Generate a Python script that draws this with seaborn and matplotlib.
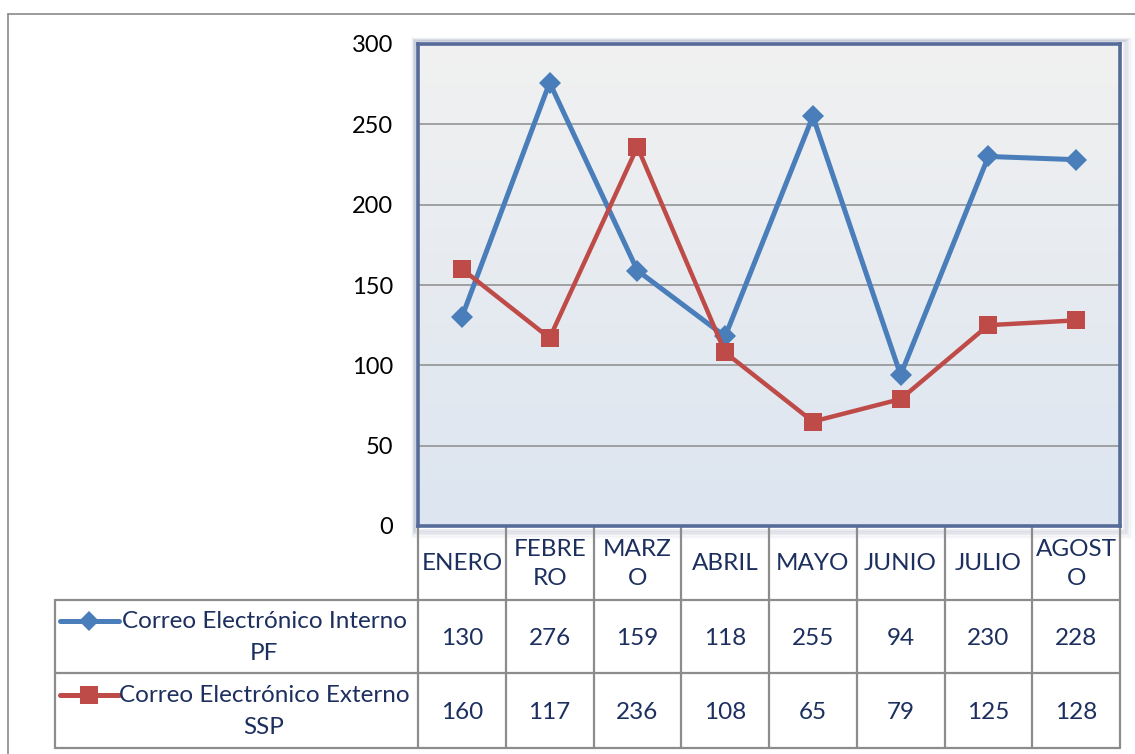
import numpy as np
import pandas as pd
import matplotlib
matplotlib.use("Agg")
import matplotlib.pyplot as plt
import seaborn as sns
from matplotlib.transforms import blended_transform_factory
from matplotlib.lines import Line2D
from matplotlib.patches import Rectangle

months = ["ENERO", "FEBRERO", "MARZO", "ABRIL", "MAYO", "JUNIO", "JULIO", "AGOSTO"]
month_labels = ["ENERO", "FEBRE\nRO", "MARZ\nO", "ABRIL", "MAYO", "JUNIO", "JULIO", "AGOST\nO"]
series_names = ["Correo Electrónico Interno\nPF", "Correo Electrónico Externo\nSSP"]
interno = [130, 276, 159, 118, 255, 94, 230, 228]
externo = [160, 117, 236, 108, 65, 79, 125, 128]
yticks = [0, 50, 100, 150, 200, 250, 300]

sns.set_theme(style="white")
plt.rcParams['font.family'] = ['Lato', 'DejaVu Sans']

W, H = 1135, 754
fig = plt.figure(figsize=(W / 100, H / 100), dpi=100)

# overlay in pixel coordinates
ov = fig.add_axes([0, 0, 1, 1], zorder=0)
ov.set_xlim(0, W)
ov.set_ylim(H, 0)
ov.axis("off")

L, R, T, B = 418, 1120, 44, 526
ax = fig.add_axes([L / W, (H - B) / H, (R - L) / W, (B - T) / H], zorder=2)

colors = ["#4a7ebb", "#be4b48"]
df = pd.DataFrame({"x": list(range(8)) * 2,
                   "y": interno + externo,
                   "s": [series_names[0]] * 8 + [series_names[1]] * 8})

# gradient background
grad = np.linspace(0, 1, 256).reshape(-1, 1)
top = np.array([0.945, 0.945, 0.945])
bot = np.array([0.863, 0.898, 0.945])
img = top + (bot - top) * grad[:, :, None]
ax.imshow(img, extent=[-0.5, 7.5, 0, 300], aspect="auto", origin="upper", zorder=0)

for v in yticks[1:-1]:
    ax.axhline(v, color="#8c8c8c", lw=1.1, zorder=1)

sns.lineplot(data=df[df.s == series_names[0]], x="x", y="y", ax=ax, color=colors[0],
             lw=3.6, marker="D", markersize=11.5, markeredgewidth=0, zorder=3, legend=False)
sns.lineplot(data=df[df.s == series_names[1]], x="x", y="y", ax=ax, color=colors[1],
             lw=3.2, marker="s", markersize=13.5, markeredgewidth=0, zorder=4, legend=False)

ax.set_xlim(-0.5, 7.5)
ax.set_ylim(0, 300)
ax.set_xticks([])
ax.set_yticks(yticks)
ax.set_yticklabels([str(v) for v in yticks], fontsize=17, color="black")
ax.tick_params(axis="y", length=0, pad=18)
ax.set_xlabel("")
ax.set_ylabel("")
for sp in ax.spines.values():
    sp.set_color("#566b99")
    sp.set_linewidth(2.6)

# shadow of plot area
for i, a in enumerate([0.12, 0.09, 0.07, 0.05, 0.03]):
    d = i + 1
    ov.add_patch(Rectangle((L - 2 - d * 0.8, T - 2 - d * 0.8), R - L + 4 + d * 2.6, B - T + 4 + d * 2.6,
                           fill=False, lw=2, ec=(0.25, 0.32, 0.5, a), zorder=1))

# outer chart frame
ov.add_line(Line2D([8, W], [14, 14], color="#8a8a8a", lw=1.2))
ov.add_line(Line2D([8, 8], [14, H], color="#8a8a8a", lw=1.2))

# data table
tr = blended_transform_factory(ax.transData, ov.transData)
grid_c = "#8c8c8c"
tcol = "#1c2f5e"
row_y = [B, 600, 673, 748]
for k in range(9):
    ov.plot([k - 0.5, k - 0.5], [B, row_y[-1]], color=grid_c, lw=1.6, transform=tr, zorder=1)
ov.plot([55, R], [row_y[1], row_y[1]], color=grid_c, lw=1.6, zorder=1)
ov.plot([55, R], [row_y[2], row_y[2]], color=grid_c, lw=1.6, zorder=1)
ov.plot([55, R], [row_y[3], row_y[3]], color=grid_c, lw=1.6, zorder=1)
ov.plot([55, 55], [row_y[1], row_y[3]], color=grid_c, lw=1.6, zorder=1)

fs = 17.5
for k, lab in enumerate(month_labels):
    ov.text(k, (row_y[0] + row_y[1]) / 2 + 1, lab, transform=tr, ha="center", va="center",
            fontsize=fs, color=tcol, linespacing=1.5)
for r, vals in enumerate([interno, externo]):
    yc = (row_y[r + 1] + row_y[r + 2]) / 2 + 2
    for k, v in enumerate(vals):
        ov.text(k, yc, str(v), transform=tr, ha="center", va="center", fontsize=fs, color=tcol)

markers = ["D", "s"]
msz = [10, 13]
for r, name in enumerate(series_names):
    yc = (row_y[r + 1] + row_y[r + 2]) / 2 + 1
    ov.text(264, yc, name, ha="center", va="center", fontsize=fs, color=tcol, linespacing=1.6)
    ly = yc - 17
    ov.add_line(Line2D([60, 119], [ly, ly], color=colors[r], lw=3.6))
    ov.add_line(Line2D([89], [ly], color=colors[r], marker=markers[r], markersize=msz[r],
                       markeredgewidth=0, lw=0))

fig.savefig("out.png", dpi=100)
